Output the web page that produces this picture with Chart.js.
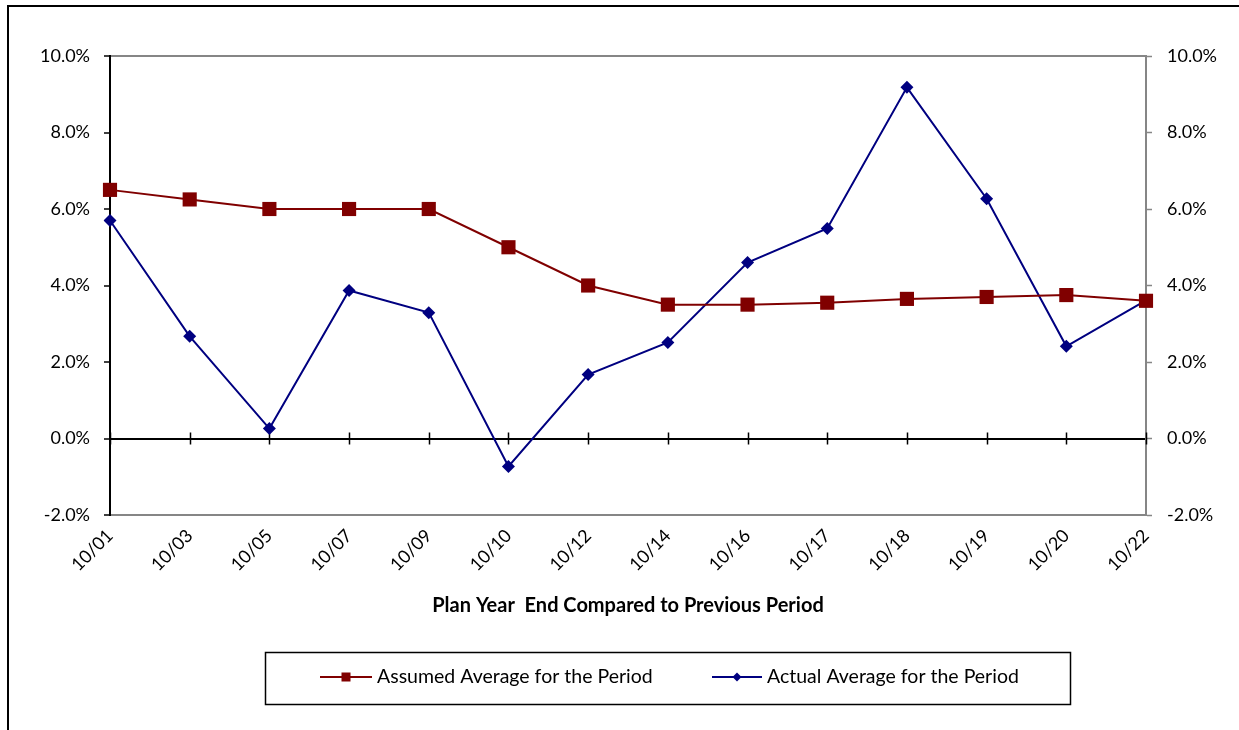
<!DOCTYPE html>
<html>
<head>
<meta charset="utf-8">
<script src="https://cdn.jsdelivr.net/npm/chart.js@4/dist/chart.umd.min.js"></script>
<style>
  html, body { margin: 0; padding: 0; background: #fff; }
  #wrap { width: 1239px; height: 730px; position: relative; }
</style>
</head>
<body>
<div id="wrap"><canvas id="c" width="1239" height="730"></canvas></div>
<script>
// Plan year end periods
const categories = ['10/01','10/03','10/05','10/07','10/09','10/10','10/12','10/14','10/16','10/17','10/18','10/19','10/20','10/22'];
// Assumed average return for each period (%)
const assumedAverage = [6.5, 6.25, 6.0, 6.0, 6.0, 5.0, 4.0, 3.5, 3.5, 3.55, 3.65, 3.7, 3.75, 3.6];
// Actual average return for each period (%)
const actualAverage = [5.7, 2.67, 0.26, 3.87, 3.29, -0.73, 1.67, 2.51, 4.6, 5.49, 9.18, 6.27, 2.41, 3.61];
// Percent axis range
const yMin = -2, yMax = 10, yStep = 2;

const FONT = 'Lato, "Open Sans", sans-serif';
const GRAY = '#868686';
const RED = '#800000';
const NAVY = '#000080';

const fmtPct = v => v.toFixed(1) + '%';

// Outer frame, zero-line category ticks and the boxed legend
const decorations = {
  id: 'decorations',
  beforeDraw(chart) {
    const ctx = chart.ctx;
    ctx.save();
    ctx.fillStyle = '#fff';
    ctx.fillRect(0, 0, chart.width, chart.height);
    ctx.strokeStyle = '#000';
    ctx.lineWidth = 2;
    ctx.strokeRect(8, 6, chart.width + 20, chart.height + 20);
    ctx.restore();
  },
  beforeDatasetsDraw(chart) {
    const ctx = chart.ctx;
    const x = chart.scales.x, y = chart.scales.y;
    const y0 = y.getPixelForValue(0);
    ctx.save();
    ctx.strokeStyle = '#000';
    ctx.lineWidth = 1.5;
    ctx.beginPath();
    for (let i = 0; i < categories.length; i++) {
      const px = Math.round(x.getPixelForValue(i)) + 0.5;
      ctx.moveTo(px, y0 - 6);
      ctx.lineTo(px, y0 + 6);
    }
    ctx.stroke();
    ctx.restore();
  },
  afterDraw(chart) {
    const ctx = chart.ctx;
    ctx.save();
    // legend box
    ctx.strokeStyle = '#000';
    ctx.lineWidth = 1.5;
    ctx.strokeRect(265.5, 652.5, 805, 52);
    const cy = 677;
    const items = [
      { x0: 320, x1: 372, tx: 377, ds: chart.data.datasets[0] },
      { x0: 712, x1: 762, tx: 767, ds: chart.data.datasets[1] }
    ];
    ctx.font = '19.5px ' + FONT;
    ctx.textBaseline = 'middle';
    ctx.textAlign = 'left';
    items.forEach(it => {
      const c = it.ds.borderColor;
      ctx.strokeStyle = c;
      ctx.lineWidth = 2;
      ctx.beginPath();
      ctx.moveTo(it.x0, cy);
      ctx.lineTo(it.x1, cy);
      ctx.stroke();
      const mx = (it.x0 + it.x1) / 2;
      ctx.fillStyle = c;
      if (it.ds.pointStyle === 'rect') {
        ctx.fillRect(mx - 4.5, cy - 4.5, 9, 9);
      } else {
        ctx.beginPath();
        ctx.moveTo(mx, cy - 4.5);
        ctx.lineTo(mx + 4.5, cy);
        ctx.lineTo(mx, cy + 4.5);
        ctx.lineTo(mx - 4.5, cy);
        ctx.closePath();
        ctx.fill();
      }
      ctx.fillStyle = '#000';
      ctx.fillText(it.ds.label, it.tx, cy);
    });
    ctx.restore();
  }
};

new Chart(document.getElementById('c'), {
  type: 'line',
  data: {
    labels: categories,
    datasets: [
      {
        label: 'Assumed Average for the Period',
        data: assumedAverage,
        borderColor: RED,
        backgroundColor: RED,
        borderWidth: 2,
        pointStyle: 'rect',
        pointRadius: 10,
        pointHoverRadius: 10,
        pointBorderWidth: 0,
        tension: 0,
        yAxisID: 'y'
      },
      {
        label: 'Actual Average for the Period',
        data: actualAverage,
        borderColor: NAVY,
        backgroundColor: NAVY,
        borderWidth: 2,
        pointStyle: 'rectRot',
        pointRadius: 6.5,
        pointHoverRadius: 6.5,
        pointBorderWidth: 0,
        tension: 0,
        yAxisID: 'y'
      }
    ]
  },
  options: {
    responsive: false,
    animation: false,
    devicePixelRatio: 1,
    layout: { padding: { top: 56, left: 0, right: 0, bottom: 105 } },
    plugins: {
      legend: { display: false },
      tooltip: { enabled: false }
    },
    scales: {
      x: {
        type: 'category',
        offset: false,
        grid: { display: false, drawTicks: false },
        border: { display: true, color: GRAY, width: 2 },
        ticks: {
          autoSkip: false,
          minRotation: 45,
          maxRotation: 45,
          padding: 10,
          color: '#000',
          font: { family: FONT, size: 18 }
        },
        title: {
          display: true,
          text: 'Plan Year  End Compared to Previous Period',
          color: '#000',
          font: { family: FONT, size: 20, weight: 'bold' },
          padding: { top: 0, bottom: 7 }
        },
        afterFit(s) { s.height = 110; }
      },
      y: {
        position: 'left',
        min: yMin, max: yMax,
        ticks: {
          stepSize: yStep,
          callback: v => fmtPct(v),
          padding: 14,
          color: '#000',
          font: { family: FONT, size: 18 }
        },
        grid: {
          drawOnChartArea: true,
          tickLength: 6,
          tickWidth: 1.5,
          tickColor: '#000',
          color: ctx => {
            const v = ctx.tick && ctx.tick.value;
            if (v === yMax) return GRAY;
            if (v === 0) return '#000';
            return 'rgba(0,0,0,0)';
          },
          lineWidth: 2
        },
        border: { display: true, color: '#000', width: 2 },
        afterFit(s) { s.width = 110; }
      },
      y2: {
        position: 'right',
        min: yMin, max: yMax,
        ticks: {
          stepSize: yStep,
          callback: v => fmtPct(v),
          padding: 15,
          color: '#000',
          font: { family: FONT, size: 18 }
        },
        grid: {
          drawOnChartArea: false,
          tickLength: 6,
          tickWidth: 1.5,
          tickColor: GRAY,
          color: GRAY
        },
        border: { display: true, color: GRAY, width: 2 },
        afterFit(s) { s.width = 93; }
      }
    }
  },
  plugins: [decorations]
});
</script>
</body>
</html>
